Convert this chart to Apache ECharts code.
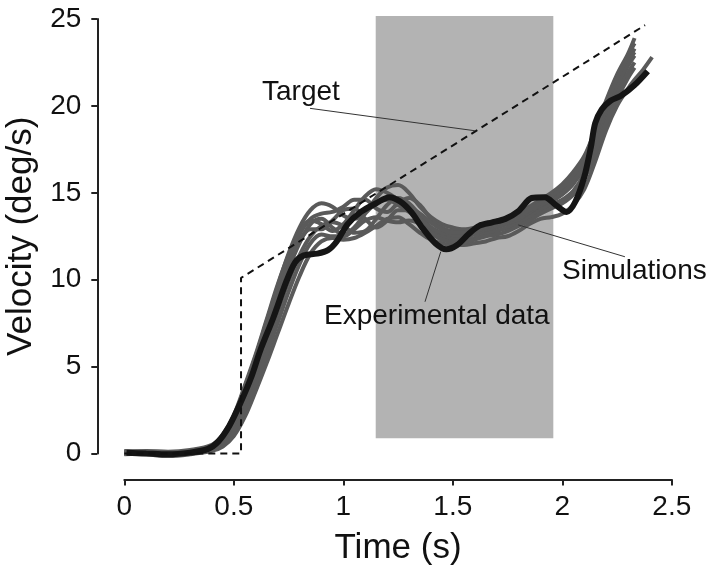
<!DOCTYPE html>
<html>
<head>
<meta charset="utf-8">
<script src="https://cdn.jsdelivr.net/npm/echarts@6/dist/echarts.min.js"></script>
<style>
html,body{margin:0;padding:0;background:#fff;}
#chart{width:720px;height:572px;}
</style>
</head>
<body>
<div id="chart"></div>
<script>
// ---------- data ----------
const xTicks = [0, 0.5, 1, 1.5, 2, 2.5];
const yTicks = [0, 5, 10, 15, 20, 25];

// target velocity profile (step then ramp)
const targetTime = [0.0, 0.533, 0.533, 2.378];
const targetVel  = [0.0, 0.0, 10.1, 24.65];

// experimental data
const expTime = [0.01,0.1,0.2,0.3,0.38,0.43,0.48,0.53,0.58,0.62,0.68,0.74,0.78,0.82,0.88,0.93,0.97,1.02,1.08,1.15,1.21,1.26,1.31,1.36,1.42,1.47,1.52,1.57,1.62,1.68,1.74,1.8,1.86,1.92,1.97,2.02,2.06,2.1,2.13,2.15,2.18,2.22,2.27,2.33,2.39];
const expVel  = [0.05,0.0,-0.05,0.05,0.25,0.7,1.6,2.9,4.4,5.9,7.8,9.9,11.0,11.4,11.5,11.7,12.2,13.2,13.9,14.4,14.75,14.5,13.9,13.0,12.1,11.75,12.0,12.6,13.1,13.3,13.5,13.95,14.7,14.75,14.3,13.9,14.5,15.9,17.6,19.0,19.8,20.3,20.6,21.2,22.0];

// simulations (shared time grid)
const simTime = [0,0.1,0.2,0.3,0.4,0.45,0.5,0.55,0.6,0.65,0.7,0.75,0.8,0.85,0.9,0.95,1.0,1.05,1.1,1.15,1.2,1.25,1.3,1.35,1.4,1.45,1.5,1.55,1.6,1.65,1.7,1.75,1.8,1.85,1.9,1.95,2.0,2.05,2.1,2.15,2.2,2.25,2.3,2.33,2.37,2.41];
const simA = [0.15,0.1,0.05,0.15,0.45,1.0,2.1,3.8,5.6,7.6,9.6,11.5,13.0,14.0,14.4,14.2,13.7,13.5,13.9,14.7,15.3,15.45,15.0,14.2,13.6,13.2,13.0,12.9,13.0,13.2,13.4,13.5,13.8,14.2,14.6,15.0,15.5,16.2,17.1,18.6,20.3,21.8,23.0,23.9,null,null];
const simB = [0.05,0.1,0.0,0.1,0.4,0.9,1.9,3.5,5.3,7.3,9.3,11.1,12.6,13.5,13.8,13.9,14.2,14.6,14.6,14.1,13.9,14.4,14.7,14.3,13.5,13.0,12.8,12.8,12.9,13.0,13.2,13.4,13.7,14.1,14.5,14.8,15.2,15.9,16.9,18.3,19.9,21.4,22.6,23.3,null,null];
const simC = [0.0,0.05,-0.05,0.05,0.3,0.75,1.7,3.2,4.9,6.8,8.8,10.6,12.1,13.2,13.5,13.0,12.6,13.0,13.8,14.4,14.6,14.3,13.9,13.4,12.9,12.6,12.5,12.5,12.6,12.8,13.0,13.2,13.4,13.8,14.2,14.5,14.9,15.5,16.5,18.0,19.6,21.0,22.3,22.9,null,null];
const simD = [-0.05,0.0,-0.1,0.0,0.25,0.6,1.4,2.8,4.4,6.2,8.1,9.9,11.4,12.5,13.1,13.3,13.1,12.7,12.8,13.5,14.3,14.7,14.4,13.7,13.0,12.5,12.3,12.3,12.4,12.6,12.8,13.0,13.2,13.6,14.0,14.3,14.6,15.1,16.1,17.7,19.3,20.7,21.9,22.5,null,null];
const simE = [0.0,-0.05,-0.15,-0.05,0.15,0.4,1.0,2.1,3.6,5.2,6.9,8.6,10.2,11.5,12.2,12.4,12.3,12.4,12.7,13.1,13.5,13.6,13.2,12.7,12.3,12.1,12.0,12.0,12.1,12.2,12.4,12.5,12.8,13.2,13.5,13.6,13.8,14.3,15.2,16.8,18.6,20.0,21.0,21.5,22.1,22.8];
const simF = [0.1,0.05,0.0,0.1,0.35,0.85,1.8,3.4,5.2,7.1,9.0,10.8,12.2,12.9,12.9,13.4,14.0,14.1,13.5,13.0,13.4,14.0,14.0,13.5,13.0,12.7,12.6,12.6,12.7,12.9,13.1,13.3,13.5,13.9,14.3,14.6,15.0,15.7,16.7,18.2,19.8,21.2,22.5,23.1,null,null];
const simG = [0.1,0.15,0.1,0.2,0.5,1.1,2.2,3.9,5.7,7.7,9.7,11.4,12.7,13.4,13.2,12.8,13.2,14.0,14.8,15.2,15.0,14.6,14.2,13.8,13.3,12.9,12.7,12.7,12.8,13.0,13.2,13.4,13.6,14.0,14.4,14.8,15.3,16.0,17.0,18.5,20.1,21.6,22.9,23.6,null,null];
const simH = [0.0,0.0,-0.1,0.05,0.2,0.5,1.2,2.5,4.0,5.7,7.5,9.3,10.9,12.1,12.6,12.5,12.5,12.9,13.4,13.6,13.4,13.3,13.4,13.2,12.7,12.3,12.2,12.2,12.3,12.5,12.6,12.8,13.1,13.4,13.8,14.1,14.4,14.9,15.8,17.3,19.0,20.4,21.6,22.2,null,null];
const simulations = [simA, simB, simC, simD, simE, simF, simG, simH];

// shaded analysis window (time range, velocity range)
const shadeTime = [1.148, 1.959];
const shadeVel  = [0.875, 25.17];

// annotation leader lines [time, velocity]
const targetLeader = [[0.848, 19.86], [1.601, 18.57]];
const simLeader    = [[1.799, 13.15], [2.286, 11.32]];
const expLeader    = [[1.445, 11.61], [1.373, 8.73]];

// ---------- chart ----------
const FONT = '"Liberation Sans", Arial, sans-serif';
const pairs = (t, v) => t.map((x, i) => [x, v[i]]).filter(p => p[1] !== null);

const chart = echarts.init(document.getElementById('chart'), null, {renderer: 'canvas'});

const series = [];
series.push({
  type: 'custom',
  clip: false,
  silent: true,
  z: 1,
  data: [[shadeTime[0], shadeVel[0], shadeTime[1], shadeVel[1]]],
  renderItem: function (params, api) {
    const p0 = api.coord([api.value(0), api.value(3)]);
    const p1 = api.coord([api.value(2), api.value(1)]);
    return {type: 'rect', shape: {x: p0[0], y: p0[1], width: p1[0] - p0[0], height: p1[1] - p0[1]},
            style: {fill: '#b3b3b3'}};
  }
});
simulations.forEach(s => {
  series.push({
    type: 'line', data: pairs(simTime, s), smooth: 0.35, showSymbol: false, clip: false, z: 2,
    lineStyle: {color: '#5a5a5a', width: 4}
  });
});
series.push({
  type: 'line', data: pairs(expTime, expVel), smooth: 0.3, showSymbol: false, clip: false, z: 3,
  lineStyle: {color: '#151515', width: 6}
});
series.push({
  type: 'line', data: pairs(targetTime, targetVel), showSymbol: false, clip: false, z: 4,
  lineStyle: {color: '#111', width: 2, type: [7, 5]}
});
[targetLeader, simLeader, expLeader].forEach(l => {
  series.push({
    type: 'line', data: l, showSymbol: false, clip: false, z: 5,
    lineStyle: {color: '#333', width: 1}
  });
});

chart.setOption({
  animation: false,
  backgroundColor: '#fff',
  grid: {left: 124.3, right: 48.2, top: 19, bottom: 118.5, containLabel: false, outerBoundsMode: 'none'},
  xAxis: {
    type: 'value', min: 0, max: 2.5, interval: 0.5, offset: 26,
    name: 'Time (s)', nameLocation: 'middle', nameGap: 51,
    nameTextStyle: {fontFamily: FONT, fontSize: 35, color: '#111'},
    axisLine: {show: true, onZero: false, lineStyle: {color: '#222', width: 2}},
    axisTick: {show: true, length: 6, lineStyle: {color: '#222', width: 2}},
    axisLabel: {fontFamily: FONT, fontSize: 28, color: '#111', margin: 14,
                formatter: v => xTicks.includes(v) ? String(v) : ''},
    splitLine: {show: false}
  },
  yAxis: {
    type: 'value', min: 0, max: 25, interval: 5, offset: 27,
    name: 'Velocity (deg/s)', nameLocation: 'middle', nameGap: 58, nameRotate: 90,
    nameTextStyle: {fontFamily: FONT, fontSize: 35, color: '#111'},
    axisLine: {show: true, onZero: false, lineStyle: {color: '#222', width: 2}},
    axisTick: {show: true, length: 6, lineStyle: {color: '#222', width: 2}},
    axisLabel: {fontFamily: FONT, fontSize: 28, color: '#111', margin: 16,
                formatter: v => yTicks.includes(v) ? String(v) : ''},
    splitLine: {show: false}
  },
  graphic: [
    {type: 'text', x: 262, y: 92, z: 10, style: {text: 'Target', font: '28px ' + FONT, fill: '#111', align: 'left', verticalAlign: 'middle'}},
    {type: 'text', x: 562, y: 271, z: 10, style: {text: 'Simulations', font: '28px ' + FONT, fill: '#111', align: 'left', verticalAlign: 'middle'}},
    {type: 'text', x: 324, y: 316, z: 10, style: {text: 'Experimental data', font: '28px ' + FONT, fill: '#111', align: 'left', verticalAlign: 'middle'}}
  ],
  series: series
});
</script>
</body>
</html>
